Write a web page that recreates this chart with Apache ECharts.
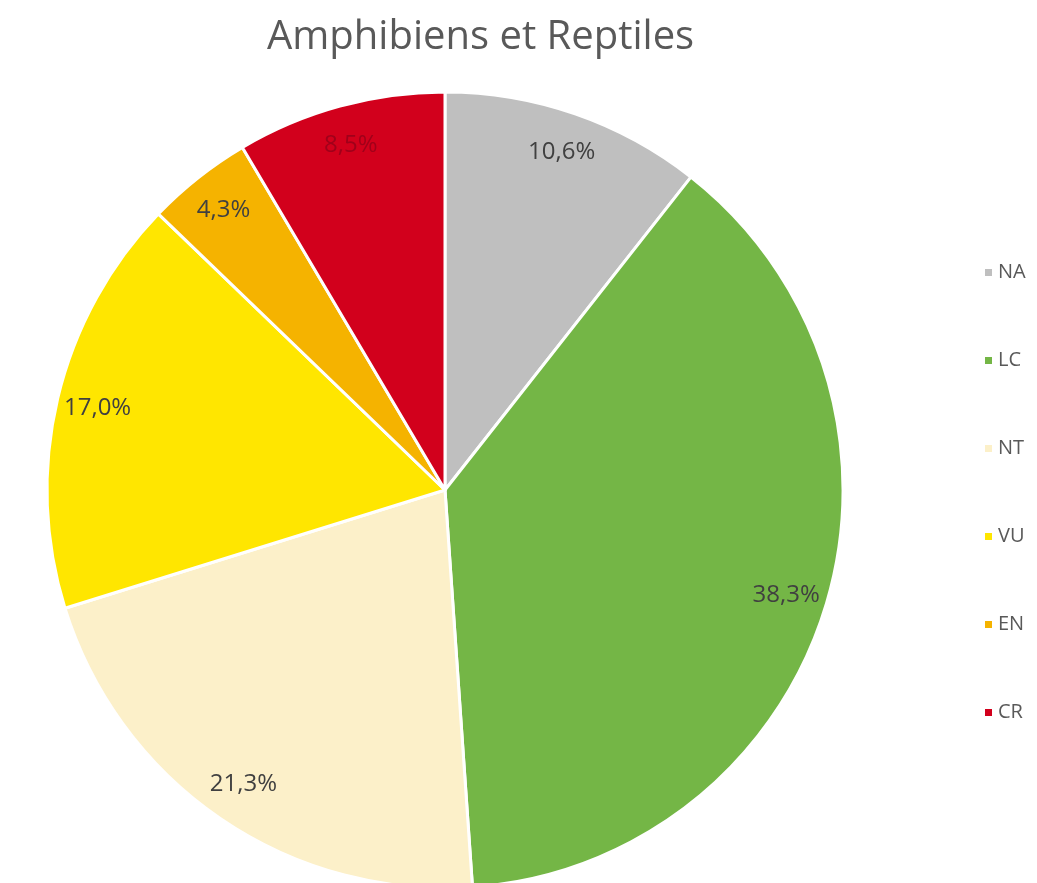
<!DOCTYPE html>
<html>
<head>
<meta charset="utf-8">
<script src="https://cdn.jsdelivr.net/npm/echarts@6/dist/echarts.min.js"></script>
<style>
  html, body { margin: 0; padding: 0; background: #fff; }
  #graphique { width: 1037px; height: 883px; }
</style>
</head>
<body>
<div id="graphique"></div>
<script>
// données (pourcentages)
const categories = ["NA", "LC", "NT", "VU", "EN", "CR"];
const valeurs = [10.6, 38.3, 21.3, 17.0, 4.3, 8.5];
const couleurs = ["#BFBFBF", "#74B646", "#FCF0C9", "#FFE600", "#F5B300", "#D2001C"];

const donnees = categories.map((nom, i) => ({
  name: nom,
  value: valeurs[i],
  itemStyle: { color: couleurs[i] }
}));

// anneau invisible qui sert seulement à placer les étiquettes près du bord
const donneesEtiquettes = categories.map((nom, i) => ({
  name: nom,
  value: valeurs[i],
  itemStyle: { color: "rgba(0,0,0,0)" },
  // sur le rouge l'étiquette se voit à peine dans l'original
  label: nom === "CR" ? { color: "#A0001A" } : undefined
}));

const myChart = echarts.init(document.getElementById("graphique"));

const option = {
  backgroundColor: "#ffffff",
  animation: false,
  title: {
    text: "Amphibiens et Reptiles",
    left: 262,
    top: 13,
    textStyle: {
      fontFamily: "Open Sans",
      fontSize: 40,
      fontWeight: "normal",
      color: "#595959"
    }
  },
  legend: {
    orient: "vertical",
    left: 978,
    top: 257,
    icon: "rect",
    itemWidth: 9,
    itemHeight: 9,
    itemGap: 67,
    itemTextGap: 8,
    data: categories.map((nom, i) => ({ name: nom, itemStyle: { color: couleurs[i] } })),
    textStyle: {
      fontFamily: "Open Sans",
      fontSize: 20,
      lineHeight: 21,
      color: "#595959"
    }
  },
  series: [
    {
      type: "pie",
      center: [445, 490],
      radius: 398,
      startAngle: 90,
      clockwise: true,
      silent: true,
      itemStyle: { borderColor: "#ffffff", borderWidth: 3 },
      label: { show: false },
      labelLine: { show: false },
      data: donnees
    },
    {
      type: "pie",
      center: [445, 490],
      radius: [310, 398],
      startAngle: 90,
      clockwise: true,
      silent: true,
      itemStyle: { borderWidth: 0 },
      label: {
        show: true,
        position: "inside",
        fontFamily: "Open Sans",
        fontSize: 24,
        color: "#404040",
        formatter: (p) => p.value.toFixed(1).replace(".", ",") + "%"
      },
      labelLine: { show: false },
      data: donneesEtiquettes
    }
  ]
};

myChart.setOption(option);
</script>
</body>
</html>
